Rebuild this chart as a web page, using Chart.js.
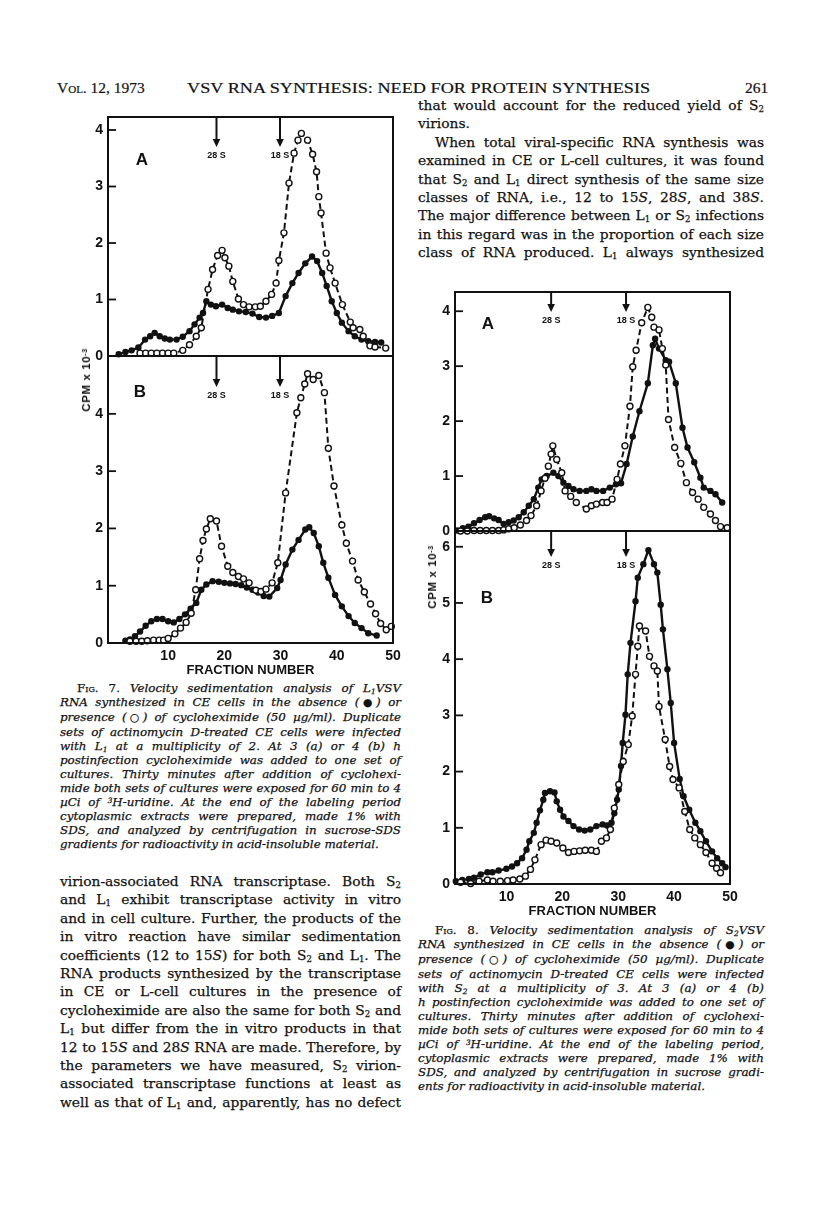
<!DOCTYPE html>
<html>
<head>
<meta charset="utf-8">
<script src="https://cdn.jsdelivr.net/npm/chart.js@4.4.1/dist/chart.umd.min.js"></script>
<style>
  html, body { margin: 0; padding: 0; background: #fff; }
  body { width: 816px; height: 1211px; position: relative; overflow: hidden; color: #111; font-family: "DejaVu Serif", serif; }
  .hdr { position: absolute; top: 79px; font-family: "Liberation Serif", serif; font-size: 15.5px; line-height: 17px; white-space: nowrap; transform-origin: left center; -webkit-text-stroke: 0.2px #111; }
  .sc { font-variant: small-caps; font-style: normal; }
  .col { position: absolute; -webkit-text-stroke: 0.25px #111; }
  .body { font-size: 13.8px; line-height: 18.4px; }
  .cap { font-size: 11.9px; line-height: 14px; font-style: italic; }
  .j { text-align: justify; text-align-last: justify; }
  .end { text-align-last: left; }
  .ind { text-indent: 17px; }
  sub { font-size: 62%; vertical-align: -0.25em; line-height: 0; }
  sup { font-size: 62%; vertical-align: 0.45em; line-height: 0; }
  .sym { font-family: "DejaVu Sans", sans-serif; font-style: normal; font-size: 90%; }
  .wrap { position: absolute; }
  .letter { position: absolute; font: bold 17px "Liberation Sans", sans-serif; transform: translate(-50%, -50%); }
  .ytitle { position: absolute; font: bold 11.5px "Liberation Sans", sans-serif; letter-spacing: 0.6px; white-space: nowrap; transform: translate(-50%, -50%) rotate(-90deg); }
</style>
</head>
<body>

<div class="hdr" style="left:57px"><span class="sc">Vol.</span> 12, 1973</div>
<div class="hdr" data-fit="463" style="left:187px">VSV RNA SYNTHESIS: NEED FOR PROTEIN SYNTHESIS</div>
<div class="hdr" style="left:745px">261</div>

<div class="col body" style="left:418px; top:96px; width:346px">
  <div class="j">that would account for the reduced yield of S<sub>2</sub></div>
  <div class="j end">virions.</div>
  <div class="j ind">When total viral-specific RNA synthesis was</div>
  <div class="j">examined in CE or L-cell cultures, it was found</div>
  <div class="j">that S<sub>2</sub> and L<sub>1</sub> direct synthesis of the same size</div>
  <div class="j">classes of RNA, i.e., 12 to 15<i>S</i>, 28<i>S</i>, and 38<i>S</i>.</div>
  <div class="j">The major difference between L<sub>1</sub> or S<sub>2</sub> infections</div>
  <div class="j">in this regard was in the proportion of each size</div>
  <div class="j">class of RNA produced. L<sub>1</sub> always synthesized</div>
</div>

<div class="col cap" style="left:60px; top:681px; width:341px">
  <div class="j ind"><span class="sc">Fig. 7.</span> Velocity sedimentation analysis of L<sub>1</sub>VSV</div>
  <div class="j">RNA synthesized in CE cells in the absence (<span class="sym">&#9679;</span>) or</div>
  <div class="j">presence (<span class="sym">&#9675;</span>) of cycloheximide (50 &micro;g/ml). Duplicate</div>
  <div class="j">sets of actinomycin D-treated CE cells were infected</div>
  <div class="j">with L<sub>1</sub> at a multiplicity of 2. At 3 (a) or 4 (b) h</div>
  <div class="j">postinfection cycloheximide was added to one set of</div>
  <div class="j">cultures. Thirty minutes after addition of cyclohexi-</div>
  <div class="j">mide both sets of cultures were exposed for 60 min to 4</div>
  <div class="j">&micro;Ci of <sup>3</sup>H-uridine. At the end of the labeling period</div>
  <div class="j">cytoplasmic extracts were prepared, made 1% with</div>
  <div class="j">SDS, and analyzed by centrifugation in sucrose-SDS</div>
  <div class="j end">gradients for radioactivity in acid-insoluble material.</div>
</div>

<div class="col body" style="left:60px; top:872px; width:341px">
  <div class="j">virion-associated RNA transcriptase. Both S<sub>2</sub></div>
  <div class="j">and L<sub>1</sub> exhibit transcriptase activity in vitro</div>
  <div class="j">and in cell culture. Further, the products of the</div>
  <div class="j">in vitro reaction have similar sedimentation</div>
  <div class="j">coefficients (12 to 15<i>S</i>) for both S<sub>2</sub> and L<sub>1</sub>. The</div>
  <div class="j">RNA products synthesized by the transcriptase</div>
  <div class="j">in CE or L-cell cultures in the presence of</div>
  <div class="j">cycloheximide are also the same for both S<sub>2</sub> and</div>
  <div class="j">L<sub>1</sub> but differ from the in vitro products in that</div>
  <div class="j">12 to 15<i>S</i> and 28<i>S</i> RNA are made. Therefore, by</div>
  <div class="j">the parameters we have measured, S<sub>2</sub> virion-</div>
  <div class="j">associated transcriptase functions at least as</div>
  <div class="j">well as that of L<sub>1</sub> and, apparently, has no defect</div>
</div>

<div class="col cap" style="left:418px; top:923px; width:346px">
  <div class="j ind"><span class="sc">Fig. 8.</span> Velocity sedimentation analysis of S<sub>2</sub>VSV</div>
  <div class="j">RNA synthesized in CE cells in the absence (<span class="sym">&#9679;</span>) or</div>
  <div class="j">presence (<span class="sym">&#9675;</span>) of cycloheximide (50 &micro;g/ml). Duplicate</div>
  <div class="j">sets of actinomycin D-treated CE cells were infected</div>
  <div class="j">with S<sub>2</sub> at a multiplicity of 3. At 3 (a) or 4 (b)</div>
  <div class="j">h postinfection cycloheximide was added to one set of</div>
  <div class="j">cultures. Thirty minutes after addition of cyclohexi-</div>
  <div class="j">mide both sets of cultures were exposed for 60 min to 4</div>
  <div class="j">&micro;Ci of <sup>3</sup>H-uridine. At the end of the labeling period,</div>
  <div class="j">cytoplasmic extracts were prepared, made 1% with</div>
  <div class="j">SDS, and analyzed by centrifugation in sucrose gradi-</div>
  <div class="j end">ents for radioactivity in acid-insoluble material.</div>
</div>

<div class="wrap" id="wrap7a"><canvas id="fig7a"></canvas></div>
<div class="wrap" id="wrap7b"><canvas id="fig7b"></canvas></div>
<div class="wrap" id="wrap8a"><canvas id="fig8a"></canvas></div>
<div class="wrap" id="wrap8b"><canvas id="fig8b"></canvas></div>

<div class="letter" style="left:142px; top:160px">A</div>
<div class="letter" style="left:140px; top:392px">B</div>
<div class="letter" style="left:488px; top:324px">A</div>
<div class="letter" style="left:487px; top:598px">B</div>
<div class="ytitle" style="left:86px; top:380px">CPM x 10<sup>-3</sup></div>
<div class="ytitle" style="left:432px; top:577px">CPM x 10<sup>-3</sup></div>

<script>
const INK = '#111';

// axes
const FRACTION_TICKS = [10, 20, 30, 40, 50];
const FIG7A_Y_TICKS = [0, 1, 2, 3, 4];
const FIG7B_Y_TICKS = [0, 1, 2, 3, 4];
const FIG8A_Y_TICKS = [0, 1, 2, 3, 4];
const FIG8B_Y_TICKS = [0, 1, 2, 3, 4, 5, 6];
const MARKER_LABELS = ['28 S', '18 S'];
const FIG7_MARKERS = [18.6, 29.9];
const FIG8_MARKERS = [18.0, 31.4];

// Fig. 7 A  (filled = no drug, open = cycloheximide)
const fig7aFilledX = [1.2, 2.4, 3.5, 4.7, 5.9, 6.8, 7.6, 8.5, 9.4, 10.3, 11.5, 12.6, 13.8, 14.7, 15.6, 16.2, 16.8, 17.6, 18.5, 19.6, 20.6, 21.5, 22.6, 23.8, 25, 26.2, 27.4, 28.5, 29.7, 30.9, 32.1, 33.2, 34.4, 35.6, 36.5, 37.4, 38.2, 39.1, 40, 40.9, 42.1, 43.2, 44.4, 45.6, 46.8, 47.9];
const fig7aFilledY = [0.03, 0.07, 0.1, 0.15, 0.29, 0.35, 0.41, 0.35, 0.31, 0.29, 0.29, 0.34, 0.44, 0.56, 0.68, 0.76, 0.97, 0.91, 0.88, 0.91, 0.85, 0.82, 0.79, 0.78, 0.75, 0.69, 0.68, 0.71, 0.76, 1.06, 1.29, 1.47, 1.64, 1.76, 1.68, 1.47, 1.24, 0.97, 0.76, 0.59, 0.44, 0.35, 0.29, 0.26, 0.25, 0.24];
const fig7aOpenX = [5, 6, 7, 8, 9, 10, 11, 12.6, 13.8, 15, 15.9, 17.1, 17.9, 18.8, 19.6, 20.1, 20.8, 21.5, 22.5, 23.4, 24.4, 25.5, 26.4, 27.4, 28.4, 29.2, 29.7, 30.6, 31.5, 32.4, 33.1, 33.7, 34.8, 35.7, 36.4, 36.8, 37.2, 38.1, 38.8, 39.7, 41, 42.4, 42.9, 44.1, 44.7, 45.9, 46.8, 48.7];
const fig7aOpenY = [0.05, 0.05, 0.05, 0.05, 0.05, 0.05, 0.05, 0.1, 0.2, 0.35, 0.5, 1.18, 1.53, 1.78, 1.87, 1.74, 1.59, 1.32, 1.01, 0.91, 0.87, 0.87, 0.88, 0.97, 1.09, 1.29, 1.69, 2.18, 3.06, 3.59, 3.82, 3.94, 3.82, 3.57, 3.26, 2.82, 2.53, 1.82, 1.56, 1.29, 0.91, 0.6, 0.5, 0.47, 0.35, 0.18, 0.16, 0.14];

// Fig. 7 B
const fig7bFilledX = [2.4, 3.2, 4.1, 5, 6, 7, 8, 9, 10, 11, 12, 13, 14, 15, 15.9, 16.8, 17.9, 19, 20, 21, 22, 23, 24, 25, 26, 27, 28, 29.4, 30, 30.9, 32.1, 33.2, 34.4, 35.1, 35.9, 36.8, 37.6, 38.5, 39.7, 40.9, 42.1, 43.2, 44.4, 45.6, 47.1];
const fig7bFilledY = [0.04, 0.06, 0.12, 0.2, 0.3, 0.38, 0.42, 0.42, 0.38, 0.36, 0.42, 0.5, 0.6, 0.7, 0.93, 1.02, 1.08, 1.07, 1.05, 1.04, 1.03, 1.01, 0.97, 0.93, 0.88, 0.82, 0.81, 0.96, 1.1, 1.37, 1.63, 1.8, 1.98, 2.02, 1.92, 1.69, 1.4, 1.14, 0.84, 0.64, 0.47, 0.35, 0.26, 0.17, 0.13];
const fig7bOpenX = [3.2, 4.3, 5.3, 6.3, 7.4, 8.4, 9.2, 10, 11.2, 12.2, 13.2, 14.1, 14.9, 15.6, 16.2, 16.8, 17.5, 18.6, 19.5, 20.6, 21.5, 22.5, 23.4, 24.4, 25.6, 26.5, 27.4, 28.5, 29.5, 30.9, 32.9, 33.6, 34.3, 34.8, 35.8, 36.8, 37.8, 38.5, 39.5, 40.9, 41.7, 42.8, 43.8, 44.9, 46, 46.9, 47.8, 48.8, 49.7];
const fig7bOpenY = [0.03, 0.03, 0.03, 0.04, 0.05, 0.05, 0.05, 0.08, 0.16, 0.26, 0.36, 0.52, 0.93, 1.47, 1.79, 1.99, 2.17, 2.13, 1.69, 1.34, 1.23, 1.16, 1.12, 1.05, 0.92, 0.9, 0.94, 1.05, 1.4, 2.62, 4.02, 4.28, 4.52, 4.7, 4.6, 4.67, 4.37, 3.4, 2.74, 2.06, 1.74, 1.43, 1.1, 0.89, 0.68, 0.51, 0.34, 0.23, 0.29];

// Fig. 8 A
const fig8aFilledX = [1.2, 2.2, 3.2, 4.2, 5.2, 6.2, 6.9, 7.8, 8.6, 9.5, 10.4, 11.3, 12.2, 13.1, 14, 14.9, 15.7, 16.3, 17.2, 18.4, 19.3, 20.2, 21.1, 22, 23.1, 24.3, 25.2, 26.1, 27.3, 28.5, 29.6, 30.5, 31.5, 32.6, 33.8, 35.3, 36.2, 36.6, 37.3, 38.5, 39.1, 40.3, 41.5, 42.4, 43.6, 44.7, 45.3, 46.5, 47.4, 48.6];
const fig8aFilledY = [0.01, 0.05, 0.08, 0.14, 0.2, 0.25, 0.27, 0.23, 0.2, 0.13, 0.16, 0.19, 0.25, 0.34, 0.46, 0.58, 0.79, 0.94, 1.0, 1.06, 1.0, 0.88, 0.82, 0.76, 0.73, 0.73, 0.76, 0.73, 0.73, 0.79, 0.85, 0.87, 1.22, 1.72, 2.18, 2.69, 3.38, 3.5, 3.32, 3.11, 3.08, 2.69, 1.88, 1.52, 1.25, 0.97, 0.79, 0.73, 0.67, 0.52];
const fig8aOpenX = [1.8, 3, 4.2, 5.3, 6.4, 7.5, 8.6, 9.5, 10.4, 11.4, 12.5, 13.6, 14.4, 15.4, 16.2, 16.9, 17.5, 18, 18.3, 19, 19.9, 20.5, 21.5, 22.5, 24.3, 25.2, 26.1, 27.2, 28, 28.9, 29.8, 30.4, 31.2, 32.1, 32.6, 33.2, 34.2, 35.3, 36, 36.4, 37.3, 37.9, 38.5, 39, 40.1, 41.2, 42.2, 43.3, 44.3, 45.3, 46.5, 47.4, 48.3, 49.5];
const fig8aOpenY = [0, 0, 0.01, 0.01, 0.01, 0.01, 0.01, 0.02, 0.04, 0.06, 0.11, 0.19, 0.28, 0.46, 0.73, 0.96, 1.18, 1.4, 1.55, 1.3, 1.06, 0.73, 0.63, 0.52, 0.4, 0.46, 0.49, 0.52, 0.52, 0.58, 0.94, 1.22, 1.55, 2.27, 2.99, 3.29, 3.79, 4.07, 3.89, 3.71, 3.66, 3.32, 3.02, 2.03, 1.52, 1.23, 0.88, 0.7, 0.58, 0.43, 0.31, 0.19, 0.08, 0.06];

// Fig. 8 B
const fig8bFilledX = [0.95, 2.1, 3.3, 4.2, 5.4, 6.6, 7.5, 8.6, 10, 11, 11.9, 12.8, 13.6, 14.1, 14.9, 15.4, 16, 16.6, 16.9, 17.8, 18.6, 19, 19.6, 20.2, 21.1, 22, 23, 24, 25, 26.1, 27.2, 28, 28.8, 29.3, 29.8, 30.1, 30.5, 30.8, 31.3, 31.7, 32.2, 33.1, 33.5, 34.5, 35.4, 36.4, 37, 37.6, 38, 38.8, 39.4, 40, 41, 41.7, 42.7, 43.8, 44.7, 45.7, 46.8, 47.7, 48.6, 49.2];
const fig8bFilledY = [0.05, 0.07, 0.09, 0.11, 0.17, 0.21, 0.21, 0.24, 0.27, 0.31, 0.37, 0.46, 0.61, 0.76, 0.91, 1.09, 1.31, 1.5, 1.62, 1.65, 1.63, 1.47, 1.32, 1.2, 1.12, 1.03, 0.97, 0.95, 0.97, 1.03, 1.06, 1.04, 1.09, 1.26, 1.5, 1.68, 2.1, 2.51, 3.01, 3.73, 4.29, 5.03, 5.45, 5.69, 5.94, 5.69, 5.54, 4.97, 4.53, 3.82, 3.22, 2.51, 1.87, 1.56, 1.32, 1.09, 0.94, 0.76, 0.58, 0.46, 0.37, 0.3];
const fig8bOpenX = [1.8, 3.6, 5.1, 6.6, 7.6, 8.9, 10.2, 11.2, 12.4, 13.4, 14.3, 15.1, 16.2, 17.1, 18, 19, 20.1, 21.1, 22.1, 23.1, 24.1, 25.2, 26.1, 27, 27.9, 28.6, 29.3, 30.1, 30.9, 31.8, 32.5, 33.1, 33.5, 33.8, 34.9, 35.6, 36.4, 37, 37.3, 38.4, 39.2, 39.8, 40.9, 41.9, 42.8, 43.7, 44.7, 45.7, 46.8, 47.6, 48.3];
const fig8bOpenY = [0.03, 0.01, 0.05, 0.07, 0.05, 0.05, 0.06, 0.07, 0.09, 0.14, 0.26, 0.43, 0.7, 0.78, 0.76, 0.73, 0.64, 0.56, 0.58, 0.59, 0.6, 0.6, 0.58, 0.76, 0.82, 0.97, 1.35, 1.77, 2.18, 2.48, 2.99, 3.73, 4.23, 4.59, 4.5, 4.05, 3.88, 3.79, 3.16, 2.57, 2.09, 1.86, 1.71, 1.29, 0.97, 0.82, 0.7, 0.56, 0.37, 0.28, 0.2];

const Y_AXIS_W = 48;
const X_AXIS_H = 37;
const PAD = 10;
const PAD_RIGHT = 12;

function byId(id) {
  return document.getElementById(id);
}

function points(xs, ys) {
  return xs.map((x, i) => ({ x, y: ys[i] }));
}

const panels = [
  { id: 'fig7a', wrap: 'wrap7a', box: { left: 108, top: 117, right: 393, bottom: 356 }, xMin: -0.7, yMax: 4.23,
    yTicks: FIG7A_Y_TICKS, markers: FIG7_MARKERS, arrowLen: 30, xAxis: false,
    filled: points(fig7aFilledX, fig7aFilledY), open: points(fig7aOpenX, fig7aOpenY) },
  { id: 'fig7b', wrap: 'wrap7b', box: { left: 108, top: 356, right: 393, bottom: 643 }, xMin: -0.7, yMax: 5.01,
    yTicks: FIG7B_Y_TICKS, markers: FIG7_MARKERS, arrowLen: 31, xAxis: true,
    filled: points(fig7bFilledX, fig7bFilledY), open: points(fig7bOpenX, fig7bOpenY) },
  { id: 'fig8a', wrap: 'wrap8a', box: { left: 455, top: 292, right: 730, bottom: 531 }, xMin: 0.8, yMax: 4.35,
    yTicks: FIG8A_Y_TICKS, markers: FIG8_MARKERS, arrowLen: 20, xAxis: false,
    filled: points(fig8aFilledX, fig8aFilledY), open: points(fig8aOpenX, fig8aOpenY) },
  { id: 'fig8b', wrap: 'wrap8b', box: { left: 455, top: 531, right: 730, bottom: 884 }, xMin: 0.8, yMax: 6.28,
    yTicks: FIG8B_Y_TICKS, markers: FIG8_MARKERS, arrowLen: 26, xAxis: true,
    filled: points(fig8bFilledX, fig8bFilledY), open: points(fig8bOpenX, fig8bOpenY) },
];

// box, inward ticks and the 28S / 18S arrows
const framePlugin = {
  id: 'frame',
  afterDraw(chart, args, opts) {
    const { ctx, chartArea: a, scales } = chart;
    ctx.save();
    ctx.strokeStyle = INK;
    ctx.fillStyle = INK;
    ctx.lineWidth = 2;
    ctx.strokeRect(a.left, a.top, a.right - a.left, a.bottom - a.top);

    ctx.lineWidth = 1.8;
    opts.yTicks.forEach((v) => {
      const y = scales.y.getPixelForValue(v);
      ctx.beginPath();
      ctx.moveTo(a.left, y);
      ctx.lineTo(a.left + 8, y);
      ctx.stroke();
    });

    ctx.font = 'bold 9px "Liberation Sans", sans-serif';
    ctx.textAlign = 'center';
    ctx.textBaseline = 'middle';
    opts.markers.forEach((m, i) => {
      const x = scales.x.getPixelForValue(m);
      const tip = a.top + opts.arrowLen;
      ctx.lineWidth = 2;
      ctx.beginPath();
      ctx.moveTo(x, a.top);
      ctx.lineTo(x, tip - 5);
      ctx.stroke();
      ctx.beginPath();
      ctx.moveTo(x - 3.8, tip - 8);
      ctx.lineTo(x + 3.8, tip - 8);
      ctx.lineTo(x, tip);
      ctx.closePath();
      ctx.fill();
      ctx.fillText(MARKER_LABELS[i], x, tip + 9);
    });
    ctx.restore();
  },
};

function buildPanel(p) {
  const width = p.box.right - p.box.left + Y_AXIS_W + PAD_RIGHT;
  const height = p.box.bottom - p.box.top + PAD + (p.xAxis ? X_AXIS_H : PAD);
  const wrap = byId(p.wrap);
  wrap.style.left = `${p.box.left - Y_AXIS_W}px`;
  wrap.style.top = `${p.box.top - PAD}px`;
  const canvas = byId(p.id);
  canvas.width = width;
  canvas.height = height;
  canvas.style.width = `${width}px`;
  canvas.style.height = `${height}px`;

  const tickFont = { family: '"Liberation Sans", sans-serif', size: 14, weight: 'bold' };

  return new Chart(canvas, {
    type: 'line',
    data: {
      datasets: [
        {
          label: 'cycloheximide',
          data: p.open,
          order: 0,
          borderColor: INK,
          borderWidth: 2,
          borderDash: [6, 3.5],
          pointRadius: 3,
          pointBackgroundColor: '#fff',
          pointBorderColor: INK,
          pointBorderWidth: 1.4,
          tension: 0,
          fill: false,
          clip: false,
        },
        {
          label: 'control',
          data: p.filled,
          order: 1,
          borderColor: INK,
          borderWidth: 2.4,
          pointRadius: 3.2,
          pointBackgroundColor: INK,
          pointBorderColor: INK,
          pointBorderWidth: 0,
          tension: 0,
          fill: false,
          clip: false,
        },
      ],
    },
    options: {
      responsive: false,
      animation: false,
      events: [],
      layout: {
        autoPadding: false,
        padding: { left: 0, top: PAD, right: PAD_RIGHT, bottom: p.xAxis ? 0 : PAD },
      },
      plugins: {
        legend: { display: false },
        tooltip: { enabled: false },
        frame: { yTicks: p.yTicks, markers: p.markers, arrowLen: p.arrowLen },
      },
      scales: {
        x: {
          type: 'linear',
          min: p.xMin,
          max: 50,
          display: p.xAxis,
          afterBuildTicks: (scale) => {
            scale.ticks = FRACTION_TICKS.map((value) => ({ value }));
          },
          afterFit: (scale) => {
            scale.height = p.xAxis ? X_AXIS_H : 0;
            scale.paddingLeft = 0;
            scale.paddingRight = 0;
          },
          grid: { display: false, drawTicks: false },
          border: { display: false },
          ticks: { color: INK, font: tickFont, padding: 5, maxRotation: 0, autoSkip: false },
          title: {
            display: true,
            text: 'FRACTION NUMBER',
            color: INK,
            font: { family: '"Liberation Sans", sans-serif', size: 13, weight: 'bold' },
            padding: { top: 0, bottom: 2 },
          },
        },
        y: {
          type: 'linear',
          min: 0,
          max: p.yMax,
          afterBuildTicks: (scale) => {
            scale.ticks = p.yTicks.map((value) => ({ value }));
          },
          afterFit: (scale) => {
            scale.width = Y_AXIS_W;
            scale.paddingTop = 0;
            scale.paddingBottom = 0;
          },
          grid: { display: false, drawTicks: false },
          border: { display: false },
          ticks: { color: INK, font: tickFont, padding: 5 },
        },
      },
    },
    plugins: [framePlugin],
  });
}

// keep each printed line on one line, as in the scan
function fitLines() {
  document.querySelectorAll('.j').forEach((line) => {
    const lineHeight = parseFloat(getComputedStyle(line).lineHeight);
    let spacing = 0;
    while (line.offsetHeight > lineHeight * 1.5 && spacing > -1.5) {
      spacing -= 0.05;
      line.style.letterSpacing = `${spacing}px`;
    }
  });
  document.querySelectorAll('[data-fit]').forEach((el) => {
    const target = Number(el.dataset.fit);
    el.style.transform = `scaleX(${target / el.scrollWidth})`;
  });
}

document.addEventListener('DOMContentLoaded', () => {
  fitLines();
  panels.forEach(buildPanel);
});
</script>
</body>
</html>
